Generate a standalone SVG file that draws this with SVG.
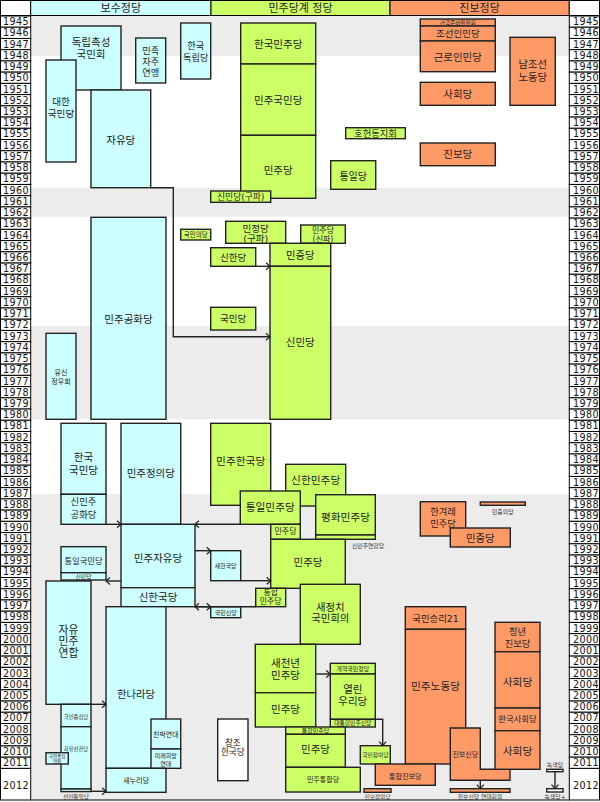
<svg xmlns="http://www.w3.org/2000/svg" width="600" height="802" viewBox="0 0 600 802">
<style>
text{font-family:"DejaVu Sans","Noto Sans CJK KR",sans-serif;fill:#222;text-anchor:middle;dominant-baseline:central}
.c{fill:#ccffff}.g{fill:#ccff66}.o{fill:#ff9966}.w{fill:#fff}
.c,.g,.o,.w{stroke:#222;stroke-width:1.4}
.band{fill:#ececec}
.yr rect{fill:#fff;stroke:#000;stroke-width:1}
.yr text{font-size:9.6px;letter-spacing:0.4px;text-anchor:start;fill:#111}
.hd{font-size:11px}
.lbl{fill:#333}
.cn path{fill:none;stroke:#222;stroke-width:1.4}
</style>
<defs>
<marker id="ar" viewBox="-6 -5 7 10" refX="0" refY="0" markerWidth="7" markerHeight="10" markerUnits="userSpaceOnUse" orient="auto">
<path d="M-4,-3.5 L0,0 L-4,3.5" fill="none" stroke="#222" stroke-width="1.2"/>
</marker>
</defs>
<rect x="0" y="0" width="600" height="802" fill="#fff"/>
<g id="bands">
<rect class="band" x="31" y="16" width="538" height="40"/>
<rect class="band" x="31" y="187.7" width="538" height="29"/>
<rect class="band" x="31" y="326" width="538" height="93.3"/>
<rect class="band" x="31" y="494.3" width="538" height="305.7"/>
</g>
<g id="header">
<rect class="w" x="0.5" y="0.5" width="30.2" height="15" style="stroke:#000;stroke-width:1"/>
<rect class="c" x="30.7" y="0.5" width="180.3" height="15" style="stroke:#000;stroke-width:1"/>
<rect class="g" x="211" y="0.5" width="179" height="15" style="stroke:#000;stroke-width:1"/>
<rect class="o" x="390" y="0.5" width="179.3" height="15" style="stroke:#000;stroke-width:1"/>
<rect class="w" x="569.3" y="0.5" width="30.2" height="15" style="stroke:#000;stroke-width:1"/>
<text class="hd" x="120.8" y="8.3">보수정당</text>
<text class="hd" x="300.5" y="8.3">민주당계 정당</text>
<text class="hd" x="479.6" y="8.3">진보정당</text>
</g>
<g id="years" class="yr">
<rect x="0.5" y="16" width="30.2" height="11.23"/><text x="3" y="21.7">1945</text>
<rect x="0.5" y="27.23" width="30.2" height="11.23"/><text x="3" y="32.9">1946</text>
<rect x="0.5" y="38.46" width="30.2" height="11.23"/><text x="3" y="44.1">1947</text>
<rect x="0.5" y="49.69" width="30.2" height="11.23"/><text x="3" y="55.3">1948</text>
<rect x="0.5" y="60.92" width="30.2" height="11.23"/><text x="3" y="66.5">1949</text>
<rect x="0.5" y="72.15" width="30.2" height="11.23"/><text x="3" y="77.8">1950</text>
<rect x="0.5" y="83.38" width="30.2" height="11.23"/><text x="3" y="89">1951</text>
<rect x="0.5" y="94.61" width="30.2" height="11.23"/><text x="3" y="100.2">1952</text>
<rect x="0.5" y="105.84" width="30.2" height="11.23"/><text x="3" y="111.5">1953</text>
<rect x="0.5" y="117.07" width="30.2" height="11.23"/><text x="3" y="122.7">1954</text>
<rect x="0.5" y="128.3" width="30.2" height="11.23"/><text x="3" y="133.9">1955</text>
<rect x="0.5" y="139.53" width="30.2" height="11.23"/><text x="3" y="145.1">1956</text>
<rect x="0.5" y="150.76" width="30.2" height="11.23"/><text x="3" y="156.4">1957</text>
<rect x="0.5" y="161.99" width="30.2" height="11.23"/><text x="3" y="167.6">1958</text>
<rect x="0.5" y="173.22" width="30.2" height="11.23"/><text x="3" y="178.8">1959</text>
<rect x="0.5" y="184.45" width="30.2" height="11.23"/><text x="3" y="190.1">1960</text>
<rect x="0.5" y="195.68" width="30.2" height="11.23"/><text x="3" y="201.3">1961</text>
<rect x="0.5" y="206.91" width="30.2" height="11.23"/><text x="3" y="212.5">1962</text>
<rect x="0.5" y="218.14" width="30.2" height="11.23"/><text x="3" y="223.8">1963</text>
<rect x="0.5" y="229.37" width="30.2" height="11.23"/><text x="3" y="235">1964</text>
<rect x="0.5" y="240.6" width="30.2" height="11.23"/><text x="3" y="246.2">1965</text>
<rect x="0.5" y="251.83" width="30.2" height="11.23"/><text x="3" y="257.4">1966</text>
<rect x="0.5" y="263.06" width="30.2" height="11.23"/><text x="3" y="268.7">1967</text>
<rect x="0.5" y="274.29" width="30.2" height="11.23"/><text x="3" y="279.9">1968</text>
<rect x="0.5" y="285.52" width="30.2" height="11.23"/><text x="3" y="291.1">1969</text>
<rect x="0.5" y="296.75" width="30.2" height="11.23"/><text x="3" y="302.4">1970</text>
<rect x="0.5" y="307.98" width="30.2" height="11.23"/><text x="3" y="313.6">1971</text>
<rect x="0.5" y="319.21" width="30.2" height="11.23"/><text x="3" y="324.8">1972</text>
<rect x="0.5" y="330.44" width="30.2" height="11.23"/><text x="3" y="336.1">1973</text>
<rect x="0.5" y="341.67" width="30.2" height="11.23"/><text x="3" y="347.3">1974</text>
<rect x="0.5" y="352.9" width="30.2" height="11.23"/><text x="3" y="358.5">1975</text>
<rect x="0.5" y="364.13" width="30.2" height="11.23"/><text x="3" y="369.7">1976</text>
<rect x="0.5" y="375.36" width="30.2" height="11.23"/><text x="3" y="381">1977</text>
<rect x="0.5" y="386.59" width="30.2" height="11.23"/><text x="3" y="392.2">1978</text>
<rect x="0.5" y="397.82" width="30.2" height="11.23"/><text x="3" y="403.4">1979</text>
<rect x="0.5" y="409.05" width="30.2" height="11.23"/><text x="3" y="414.7">1980</text>
<rect x="0.5" y="420.28" width="30.2" height="11.23"/><text x="3" y="425.9">1981</text>
<rect x="0.5" y="431.51" width="30.2" height="11.23"/><text x="3" y="437.1">1982</text>
<rect x="0.5" y="442.74" width="30.2" height="11.23"/><text x="3" y="448.4">1983</text>
<rect x="0.5" y="453.97" width="30.2" height="11.23"/><text x="3" y="459.6">1984</text>
<rect x="0.5" y="465.2" width="30.2" height="11.23"/><text x="3" y="470.8">1985</text>
<rect x="0.5" y="476.43" width="30.2" height="11.23"/><text x="3" y="482">1986</text>
<rect x="0.5" y="487.66" width="30.2" height="11.23"/><text x="3" y="493.3">1987</text>
<rect x="0.5" y="498.89" width="30.2" height="11.23"/><text x="3" y="504.5">1988</text>
<rect x="0.5" y="510.12" width="30.2" height="11.23"/><text x="3" y="515.7">1989</text>
<rect x="0.5" y="521.35" width="30.2" height="11.23"/><text x="3" y="527">1990</text>
<rect x="0.5" y="532.58" width="30.2" height="11.23"/><text x="3" y="538.2">1991</text>
<rect x="0.5" y="543.81" width="30.2" height="11.23"/><text x="3" y="549.4">1992</text>
<rect x="0.5" y="555.04" width="30.2" height="11.23"/><text x="3" y="560.7">1993</text>
<rect x="0.5" y="566.27" width="30.2" height="11.23"/><text x="3" y="571.9">1994</text>
<rect x="0.5" y="577.5" width="30.2" height="11.23"/><text x="3" y="583.1">1995</text>
<rect x="0.5" y="588.73" width="30.2" height="11.23"/><text x="3" y="594.3">1996</text>
<rect x="0.5" y="599.96" width="30.2" height="11.23"/><text x="3" y="605.6">1997</text>
<rect x="0.5" y="611.19" width="30.2" height="11.23"/><text x="3" y="616.8">1998</text>
<rect x="0.5" y="622.42" width="30.2" height="11.23"/><text x="3" y="628">1999</text>
<rect x="0.5" y="633.65" width="30.2" height="11.23"/><text x="3" y="639.3">2000</text>
<rect x="0.5" y="644.88" width="30.2" height="11.23"/><text x="3" y="650.5">2001</text>
<rect x="0.5" y="656.11" width="30.2" height="11.23"/><text x="3" y="661.7">2002</text>
<rect x="0.5" y="667.34" width="30.2" height="11.23"/><text x="3" y="673">2003</text>
<rect x="0.5" y="678.57" width="30.2" height="11.23"/><text x="3" y="684.2">2004</text>
<rect x="0.5" y="689.8" width="30.2" height="11.23"/><text x="3" y="695.4">2005</text>
<rect x="0.5" y="701.03" width="30.2" height="11.23"/><text x="3" y="706.6">2006</text>
<rect x="0.5" y="712.26" width="30.2" height="11.23"/><text x="3" y="717.9">2007</text>
<rect x="0.5" y="723.49" width="30.2" height="11.23"/><text x="3" y="729.1">2008</text>
<rect x="0.5" y="734.72" width="30.2" height="11.23"/><text x="3" y="740.3">2009</text>
<rect x="0.5" y="745.95" width="30.2" height="11.23"/><text x="3" y="751.6">2010</text>
<rect x="0.5" y="757.18" width="30.2" height="11.23"/><text x="3" y="762.8">2011</text>
<rect x="0.5" y="768.41" width="30.2" height="31.59"/><text x="3" y="785">2012</text>
</g>
<g id="years-right" class="yr">
<rect x="569.3" y="16" width="30.2" height="11.23"/><text x="573" y="21.7">1945</text>
<rect x="569.3" y="27.23" width="30.2" height="11.23"/><text x="573" y="32.9">1946</text>
<rect x="569.3" y="38.46" width="30.2" height="11.23"/><text x="573" y="44.1">1947</text>
<rect x="569.3" y="49.69" width="30.2" height="11.23"/><text x="573" y="55.3">1948</text>
<rect x="569.3" y="60.92" width="30.2" height="11.23"/><text x="573" y="66.5">1949</text>
<rect x="569.3" y="72.15" width="30.2" height="11.23"/><text x="573" y="77.8">1950</text>
<rect x="569.3" y="83.38" width="30.2" height="11.23"/><text x="573" y="89">1951</text>
<rect x="569.3" y="94.61" width="30.2" height="11.23"/><text x="573" y="100.2">1952</text>
<rect x="569.3" y="105.84" width="30.2" height="11.23"/><text x="573" y="111.5">1953</text>
<rect x="569.3" y="117.07" width="30.2" height="11.23"/><text x="573" y="122.7">1954</text>
<rect x="569.3" y="128.3" width="30.2" height="11.23"/><text x="573" y="133.9">1955</text>
<rect x="569.3" y="139.53" width="30.2" height="11.23"/><text x="573" y="145.1">1956</text>
<rect x="569.3" y="150.76" width="30.2" height="11.23"/><text x="573" y="156.4">1957</text>
<rect x="569.3" y="161.99" width="30.2" height="11.23"/><text x="573" y="167.6">1958</text>
<rect x="569.3" y="173.22" width="30.2" height="11.23"/><text x="573" y="178.8">1959</text>
<rect x="569.3" y="184.45" width="30.2" height="11.23"/><text x="573" y="190.1">1960</text>
<rect x="569.3" y="195.68" width="30.2" height="11.23"/><text x="573" y="201.3">1961</text>
<rect x="569.3" y="206.91" width="30.2" height="11.23"/><text x="573" y="212.5">1962</text>
<rect x="569.3" y="218.14" width="30.2" height="11.23"/><text x="573" y="223.8">1963</text>
<rect x="569.3" y="229.37" width="30.2" height="11.23"/><text x="573" y="235">1964</text>
<rect x="569.3" y="240.6" width="30.2" height="11.23"/><text x="573" y="246.2">1965</text>
<rect x="569.3" y="251.83" width="30.2" height="11.23"/><text x="573" y="257.4">1966</text>
<rect x="569.3" y="263.06" width="30.2" height="11.23"/><text x="573" y="268.7">1967</text>
<rect x="569.3" y="274.29" width="30.2" height="11.23"/><text x="573" y="279.9">1968</text>
<rect x="569.3" y="285.52" width="30.2" height="11.23"/><text x="573" y="291.1">1969</text>
<rect x="569.3" y="296.75" width="30.2" height="11.23"/><text x="573" y="302.4">1970</text>
<rect x="569.3" y="307.98" width="30.2" height="11.23"/><text x="573" y="313.6">1971</text>
<rect x="569.3" y="319.21" width="30.2" height="11.23"/><text x="573" y="324.8">1972</text>
<rect x="569.3" y="330.44" width="30.2" height="11.23"/><text x="573" y="336.1">1973</text>
<rect x="569.3" y="341.67" width="30.2" height="11.23"/><text x="573" y="347.3">1974</text>
<rect x="569.3" y="352.9" width="30.2" height="11.23"/><text x="573" y="358.5">1975</text>
<rect x="569.3" y="364.13" width="30.2" height="11.23"/><text x="573" y="369.7">1976</text>
<rect x="569.3" y="375.36" width="30.2" height="11.23"/><text x="573" y="381">1977</text>
<rect x="569.3" y="386.59" width="30.2" height="11.23"/><text x="573" y="392.2">1978</text>
<rect x="569.3" y="397.82" width="30.2" height="11.23"/><text x="573" y="403.4">1979</text>
<rect x="569.3" y="409.05" width="30.2" height="11.23"/><text x="573" y="414.7">1980</text>
<rect x="569.3" y="420.28" width="30.2" height="11.23"/><text x="573" y="425.9">1981</text>
<rect x="569.3" y="431.51" width="30.2" height="11.23"/><text x="573" y="437.1">1982</text>
<rect x="569.3" y="442.74" width="30.2" height="11.23"/><text x="573" y="448.4">1983</text>
<rect x="569.3" y="453.97" width="30.2" height="11.23"/><text x="573" y="459.6">1984</text>
<rect x="569.3" y="465.2" width="30.2" height="11.23"/><text x="573" y="470.8">1985</text>
<rect x="569.3" y="476.43" width="30.2" height="11.23"/><text x="573" y="482">1986</text>
<rect x="569.3" y="487.66" width="30.2" height="11.23"/><text x="573" y="493.3">1987</text>
<rect x="569.3" y="498.89" width="30.2" height="11.23"/><text x="573" y="504.5">1988</text>
<rect x="569.3" y="510.12" width="30.2" height="11.23"/><text x="573" y="515.7">1989</text>
<rect x="569.3" y="521.35" width="30.2" height="11.23"/><text x="573" y="527">1990</text>
<rect x="569.3" y="532.58" width="30.2" height="11.23"/><text x="573" y="538.2">1991</text>
<rect x="569.3" y="543.81" width="30.2" height="11.23"/><text x="573" y="549.4">1992</text>
<rect x="569.3" y="555.04" width="30.2" height="11.23"/><text x="573" y="560.7">1993</text>
<rect x="569.3" y="566.27" width="30.2" height="11.23"/><text x="573" y="571.9">1994</text>
<rect x="569.3" y="577.5" width="30.2" height="11.23"/><text x="573" y="583.1">1995</text>
<rect x="569.3" y="588.73" width="30.2" height="11.23"/><text x="573" y="594.3">1996</text>
<rect x="569.3" y="599.96" width="30.2" height="11.23"/><text x="573" y="605.6">1997</text>
<rect x="569.3" y="611.19" width="30.2" height="11.23"/><text x="573" y="616.8">1998</text>
<rect x="569.3" y="622.42" width="30.2" height="11.23"/><text x="573" y="628">1999</text>
<rect x="569.3" y="633.65" width="30.2" height="11.23"/><text x="573" y="639.3">2000</text>
<rect x="569.3" y="644.88" width="30.2" height="11.23"/><text x="573" y="650.5">2001</text>
<rect x="569.3" y="656.11" width="30.2" height="11.23"/><text x="573" y="661.7">2002</text>
<rect x="569.3" y="667.34" width="30.2" height="11.23"/><text x="573" y="673">2003</text>
<rect x="569.3" y="678.57" width="30.2" height="11.23"/><text x="573" y="684.2">2004</text>
<rect x="569.3" y="689.8" width="30.2" height="11.23"/><text x="573" y="695.4">2005</text>
<rect x="569.3" y="701.03" width="30.2" height="11.23"/><text x="573" y="706.6">2006</text>
<rect x="569.3" y="712.26" width="30.2" height="11.23"/><text x="573" y="717.9">2007</text>
<rect x="569.3" y="723.49" width="30.2" height="11.23"/><text x="573" y="729.1">2008</text>
<rect x="569.3" y="734.72" width="30.2" height="11.23"/><text x="573" y="740.3">2009</text>
<rect x="569.3" y="745.95" width="30.2" height="11.23"/><text x="573" y="751.6">2010</text>
<rect x="569.3" y="757.18" width="30.2" height="11.23"/><text x="573" y="762.8">2011</text>
<rect x="569.3" y="768.41" width="30.2" height="31.59"/><text x="573" y="785">2012</text>
</g>
<line x1="30.7" y1="800" x2="569.3" y2="800" stroke="#000" stroke-width="1"/>

<g id="n-dokrip"><rect class="c" x="61" y="26" width="60" height="64"/><text x="91" y="42.3" font-size="10.5">독립촉성</text><text x="91" y="54" font-size="10.5">국민회</text></g>
<g id="n-daehan"><rect class="c" x="46" y="60" width="30" height="102"/><text x="61" y="101.7" font-size="9.6">대한</text><text x="61" y="113.3" font-size="9.6">국민당</text></g>
<g id="n-minjok"><rect class="c" x="135.7" y="38" width="30" height="45"/><text x="150.7" y="50" font-size="9.2">민족</text><text x="150.7" y="61" font-size="9.2">자주</text><text x="150.7" y="72" font-size="9.2">연맹</text></g>
<g id="n-hanguk-dokrip"><rect class="c" x="180.7" y="23" width="30" height="56"/><text x="195.7" y="45.7" font-size="9.2">한국</text><text x="195.7" y="57.3" font-size="9.2">독립당</text></g>
<g id="n-jayu"><rect class="c" x="91" y="90" width="59.7" height="97.7"/><text x="120.8" y="140" font-size="10.5">자유당</text></g>
<g id="n-gonghwa"><rect class="c" x="91" y="217.3" width="75" height="202"/><text x="128.5" y="319" font-size="10.5">민주공화당</text></g>
<g id="n-yushin"><rect class="c" x="46" y="333.3" width="30" height="86"/><text x="61" y="372.7" font-size="7">유신</text><text x="61" y="381.7" font-size="7">정우회</text></g>
<g id="n-hanguk-gukmin"><rect class="c" x="61" y="423.3" width="45" height="71"/><text x="83.5" y="456.7" font-size="10.5">한국</text><text x="83.5" y="470" font-size="10.5">국민당</text></g>
<g id="n-sinminju-gonghwa"><rect class="c" x="61" y="494.3" width="45" height="30"/><text x="83.5" y="501.5" font-size="9.4">신민주</text><text x="83.5" y="514" font-size="9.4">공화당</text></g>
<g id="n-minjeong"><rect class="c" x="121" y="423.3" width="59.7" height="101"/><text x="150.8" y="472.7" font-size="10.5">민주정의당</text></g>
<g id="n-minja"><rect class="c" x="121" y="524.3" width="74" height="63.4"/><text x="158" y="558.3" font-size="10.5">민주자유당</text></g>
<g id="n-tongil-gukmin"><rect class="c" x="61" y="546.7" width="45" height="26"/><text x="83.5" y="561.2" font-size="8.3">통일국민당</text></g>
<g id="n-sinmin-95"><rect class="c" x="61" y="572.7" width="45" height="7.3"/><text x="83.5" y="576.5" font-size="5.8">신민당</text></g>
<g id="n-sinhanguk"><rect class="c" x="121" y="587.7" width="74" height="19"/><text x="158" y="597.2" font-size="10.5">신한국당</text></g>
<g id="n-saehanguk"><rect class="c" x="210.7" y="550.7" width="30" height="30"/><text x="225.7" y="565.7" font-size="5.9">새한국당</text></g>
<g id="n-gukminsin"><rect class="c" x="210.7" y="606.7" width="30" height="11"/><text x="225.7" y="612.2" font-size="6">국민신당</text></g>
<g id="n-jamin"><rect class="c" x="46" y="581" width="45" height="123.3"/><text x="68.5" y="630" font-size="10.8">자유</text><text x="68.5" y="641.5" font-size="10.8">민주</text><text x="68.5" y="653" font-size="10.8">연합</text></g>
<g id="n-gukmin-jungsim"><rect class="c" x="61" y="704.3" width="30" height="22.4"/><text x="76" y="716.7" font-size="5.3">국민중심당</text></g>
<g id="n-jayu-seonjin"><rect class="c" x="61" y="726.7" width="30" height="62.3"/><text x="76" y="749" font-size="5.3">자유선진당</text></g>
<g id="n-seonjin-tongil"><rect class="c" x="61" y="789" width="30" height="2.6"/><text class="lbl" x="76" y="796.6" font-size="5.7">선진통일당</text></g>
<g id="n-jungsim-yeonhap"><rect class="c" x="46" y="752.7" width="22.3" height="11.3"/><text x="57.2" y="756.3" font-size="4.4">국민중심</text><text x="57.2" y="761.2" font-size="4.4">연합</text></g>
<g id="n-hannara"><rect class="c" x="106" y="606.7" width="60" height="161.6"/><text x="136" y="694" font-size="10.3">한나라당</text></g>
<g id="n-chinbak"><rect class="c" x="151" y="719" width="29.7" height="30"/><text x="165.8" y="735" font-size="6.9">친박연대</text></g>
<g id="n-mirae"><rect class="c" x="151" y="749" width="29.7" height="19.3"/><text x="165.8" y="755" font-size="6">미래희망</text><text x="165.8" y="763.3" font-size="6">연대</text></g>
<g id="n-saenuri"><rect class="c" x="106" y="768.3" width="60" height="24"/><text x="136" y="780.3" font-size="7.1">새누리당</text></g>
<g id="n-changjo"><rect class="w" x="217.7" y="719" width="30.3" height="61.7"/><text x="232.8" y="743.3" font-size="8.6">창조</text><text x="232.8" y="752.3" font-size="8.6">한국당</text></g>

<g id="n-hanmin"><rect class="g" x="240.7" y="23" width="75" height="41"/><text x="278.2" y="44" font-size="10.5">한국민주당</text></g>
<g id="n-minguk"><rect class="g" x="240.7" y="64" width="75" height="71.3"/><text x="278.2" y="99.5" font-size="10.5">민주국민당</text></g>
<g id="n-minju-55"><rect class="g" x="240.7" y="135.3" width="75" height="63"/><text x="278.2" y="170" font-size="10.5">민주당</text></g>
<g id="n-sinmin-gupa"><rect class="g" x="210.7" y="191" width="60" height="11.3"/><text x="240.7" y="196.7" font-size="8.8">신민당(구파)</text></g>
<g id="n-hoheon"><rect class="g" x="345.7" y="127.7" width="59.6" height="11"/><text x="375.5" y="133.2" font-size="9.3">호헌동지회</text></g>
<g id="n-tongil"><rect class="g" x="330.7" y="160.7" width="45" height="28.6"/><text x="353.2" y="176" font-size="10">통일당</text></g>
<g id="n-gukminui"><rect class="g" x="180.7" y="229.3" width="30" height="10.7"/><text x="195.7" y="234.7" font-size="6.5">국민의당</text></g>
<g id="n-minjeong-gupa"><rect class="g" x="225.7" y="221.3" width="60" height="22"/><text x="255.7" y="228.3" font-size="9.5">민정당</text><text x="255.7" y="238.8" font-size="9.5">(구파)</text></g>
<g id="n-minju-sinpa"><rect class="g" x="300.7" y="225" width="44.6" height="18.3"/><text x="323" y="230.8" font-size="8">민주당</text><text x="323" y="239" font-size="8">(신파)</text></g>
<g id="n-sinhan"><rect class="g" x="210.7" y="247.7" width="45" height="18.6"/><text x="233.2" y="257" font-size="9.5">신한당</text></g>
<g id="n-minjung-65"><rect class="g" x="270" y="243.3" width="60.7" height="23"/><text x="300.3" y="255" font-size="10.3">민중당</text></g>
<g id="n-sinmin"><rect class="g" x="270" y="266.3" width="60.7" height="153"/><text x="300.3" y="341.7" font-size="10.5">신민당</text></g>
<g id="n-gukmin-70"><rect class="g" x="210.7" y="307.3" width="45" height="22.7"/><text x="233.2" y="318.7" font-size="9.5">국민당</text></g>
<g id="n-minhan"><rect class="g" x="210.7" y="423.3" width="60" height="82"/><text x="240.7" y="461.7" font-size="10.7">민주한국당</text></g>
<g id="n-sinhan-minju"><rect class="g" x="285.7" y="464.3" width="60" height="41.7"/><text x="315.7" y="480" font-size="10.7">신한민주당</text></g>
<g id="n-tongil-minju"><rect class="g" x="240.3" y="491" width="60" height="33.3"/><text x="270.3" y="507.5" font-size="10.7">통일민주당</text></g>
<g id="n-minju-90"><rect class="g" x="270.7" y="524.3" width="29.6" height="15"/><text x="285.5" y="531.8" font-size="8">민주당</text></g>
<g id="n-pyeonghwa"><rect class="g" x="315.7" y="494.7" width="59.6" height="40.3"/><text x="345.5" y="517.5" font-size="10.7">평화민주당</text></g>
<g id="n-sinminju-yeonhap"><rect class="g" x="315.7" y="535" width="59.6" height="4.3"/><text class="lbl" x="368" y="545.5" font-size="5.8">신민주연합당</text></g>
<g id="n-minju-91"><rect class="g" x="270.7" y="539.3" width="74.6" height="49"/><text x="308" y="561.7" font-size="10.5">민주당</text></g>
<g id="n-tonghap-minju-95"><rect class="g" x="255.7" y="588.3" width="30" height="18.4"/><text x="270.7" y="592.9" font-size="7.9">통합</text><text x="270.7" y="601" font-size="7.9">민주당</text></g>
<g id="n-saejeongchi"><rect class="g" x="300.3" y="584.3" width="60" height="60"/><text x="330.3" y="607" font-size="10.4">새정치</text><text x="330.3" y="618.3" font-size="10.4">국민회의</text></g>
<g id="n-saecheonnyeon"><rect class="g" x="255.3" y="644.3" width="60.4" height="48.4"/><text x="285.5" y="663.3" font-size="10.5">새천년</text><text x="285.5" y="674.5" font-size="10.5">민주당</text></g>
<g id="n-minju-03"><rect class="g" x="255.3" y="692.7" width="60.4" height="34.3"/><text x="285.5" y="709" font-size="10.5">민주당</text></g>
<g id="n-gaehyeok"><rect class="g" x="330.3" y="663.3" width="45" height="10.7"/><text x="352.8" y="668.7" font-size="5.9">개혁국민정당</text></g>
<g id="n-yeollin"><rect class="g" x="330.3" y="674" width="45" height="45.3"/><text x="352.8" y="689.3" font-size="10.5">열린</text><text x="352.8" y="701" font-size="10.5">우리당</text></g>
<g id="n-daetonghap"><rect class="g" x="330.3" y="719.3" width="45" height="7.7"/><text x="352.8" y="723.2" font-size="5.8">대통합민주신당</text></g>
<g id="n-tonghap-minju-08"><rect class="g" x="285.7" y="727" width="59.6" height="7.3"/><text x="315.5" y="730.7" font-size="6">통합민주당</text></g>
<g id="n-minju-08"><rect class="g" x="285.7" y="734.3" width="59.6" height="33"/><text x="315.5" y="749" font-size="10.5">민주당</text></g>
<g id="n-minju-tonghap"><rect class="g" x="285.7" y="767.3" width="74.6" height="24.7"/><text x="323" y="780" font-size="7">민주통합당</text></g>
<g id="n-gukmin-chamyeo"><rect class="g" x="360.3" y="745.7" width="30" height="18.3"/><text x="375.3" y="755" font-size="5.7">국민참여당</text></g>

<g id="n-geonjun"><rect class="o" x="420.3" y="19" width="75" height="7"/><text x="457.8" y="22.5" font-size="5.6">건국준비위원회</text></g>
<g id="n-joseon-inmin"><rect class="o" x="420.3" y="26" width="75" height="15"/><text x="457.8" y="33.7" font-size="9.5">조선인민당</text></g>
<g id="n-geunro"><rect class="o" x="420.3" y="41" width="75" height="30.7"/><text x="457.8" y="57" font-size="10.5">근로인민당</text></g>
<g id="n-namnodang"><rect class="o" x="510" y="37.3" width="45.3" height="68"/><text x="532.7" y="64" font-size="10.3">남조선</text><text x="532.7" y="76.7" font-size="10.3">노동당</text></g>
<g id="n-sahoe-51"><rect class="o" x="420.3" y="82.3" width="75" height="23"/><text x="457.8" y="94" font-size="10.5">사회당</text></g>
<g id="n-jinbo"><rect class="o" x="420.3" y="143" width="75" height="22.7"/><text x="457.8" y="154.3" font-size="10.5">진보당</text></g>
<g id="n-hangyeore"><rect class="o" x="420.3" y="501.7" width="45.4" height="34.3"/><text x="443" y="511.7" font-size="9.3">한겨레</text><text x="443" y="523.3" font-size="9.3">민주당</text></g>
<g id="n-minjung-90"><rect class="o" x="450.3" y="528" width="60" height="19"/><text x="480.3" y="537.5" font-size="10.4">민중당</text></g>
<g id="n-minjungui"><rect class="o" x="480.3" y="502" width="45" height="3.3"/><text class="lbl" x="502.8" y="511.7" font-size="5.9">민중의당</text></g>
<g id="n-gukmin-seungri"><rect class="o" x="405.3" y="606.7" width="60.4" height="22.6"/><text x="435.5" y="618" font-size="9.4">국민승리21</text></g>
<g id="n-minnodang"><rect class="o" x="405.3" y="629.3" width="60.4" height="134.7"/><text x="435.5" y="686" font-size="10.7">민주노동당</text></g>
<g id="n-jinbo-sin"><polygon class="o" points="450.3,728 480.3,728 480.3,769.3 510,769.3 510,780.3 450.3,780.3"/><text x="465.3" y="755" font-size="7">진보신당</text></g>
<g id="n-cheongnyeon"><rect class="o" x="495" y="622.3" width="45" height="29.4"/><text x="517.5" y="631.7" font-size="9.3">청년</text><text x="517.5" y="643.3" font-size="9.3">진보당</text></g>
<g id="n-sahoe-02"><rect class="o" x="495" y="651.7" width="45" height="56.3"/><text x="517.5" y="682.3" font-size="10.7">사회당</text></g>
<g id="n-hanguk-sahoe"><rect class="o" x="495" y="708" width="45" height="22.7"/><text x="517.5" y="719.3" font-size="8.4">한국사회당</text></g>
<g id="n-sahoe-11"><rect class="o" x="495" y="730.7" width="45" height="38.6"/><text x="517.5" y="751.7" font-size="10.7">사회당</text></g>
<g id="n-tonghap-jinbo"><rect class="o" x="375.3" y="764" width="60" height="21.3"/><text x="405.3" y="776" font-size="7.1">통합진보당</text></g>
<g id="n-jinbo-jeongui"><rect class="o" x="364" y="788.7" width="27" height="3.6"/><text class="lbl" x="377.5" y="797.3" font-size="5.7">진보정의당</text></g>
<g id="n-yeondae"><rect class="o" x="450.3" y="788.7" width="59.7" height="3.6"/><text class="lbl" x="480" y="797.3" font-size="5.8">진보신당 연대회의</text></g>
<g id="n-noksaek"><rect class="w" x="546.7" y="769.3" width="16.3" height="2.4"/><text class="lbl" x="555" y="765" font-size="5.9">녹색당</text></g>
<g id="n-noksaek-plus"><rect class="w" x="546.7" y="788.7" width="16.3" height="3.3"/><text class="lbl" x="555" y="797.3" font-size="5.9">녹색당+</text></g>

<g id="connectors" class="cn">
<path d="M150.7,187.7 H173.3 V336.7 H270" marker-end="url(#ar)"/>
<path d="M255.7,266.3 H270" marker-end="url(#ar)"/>
<path d="M106,524.3 H121" marker-end="url(#ar)"/>
<path d="M240.3,524.3 H195" marker-end="url(#ar)"/>
<path d="M195,550.7 H210.7" marker-end="url(#ar)"/>
<path d="M240.7,580.7 H270.7" marker-end="url(#ar)"/>
<path d="M121,581 H106" marker-end="url(#ar)"/>
<path d="M255.7,606.7 H195" marker-end="url(#ar)"/>
<path d="M195,606.7 H210.7" marker-end="url(#ar)"/>
<path d="M91,704.3 H106" marker-end="url(#ar)"/>
<path d="M91,791.3 H106" marker-end="url(#ar)"/>
<path d="M315.7,674 H330.3" marker-end="url(#ar)"/>
<path d="M375.3,719.3 H382.7 V745.7" marker-end="url(#ar)"/>
<path d="M480.3,780.3 V788.7" marker-end="url(#ar)"/>
<path d="M555,771.7 V788.7" marker-end="url(#ar)"/>
</g>
</svg>
